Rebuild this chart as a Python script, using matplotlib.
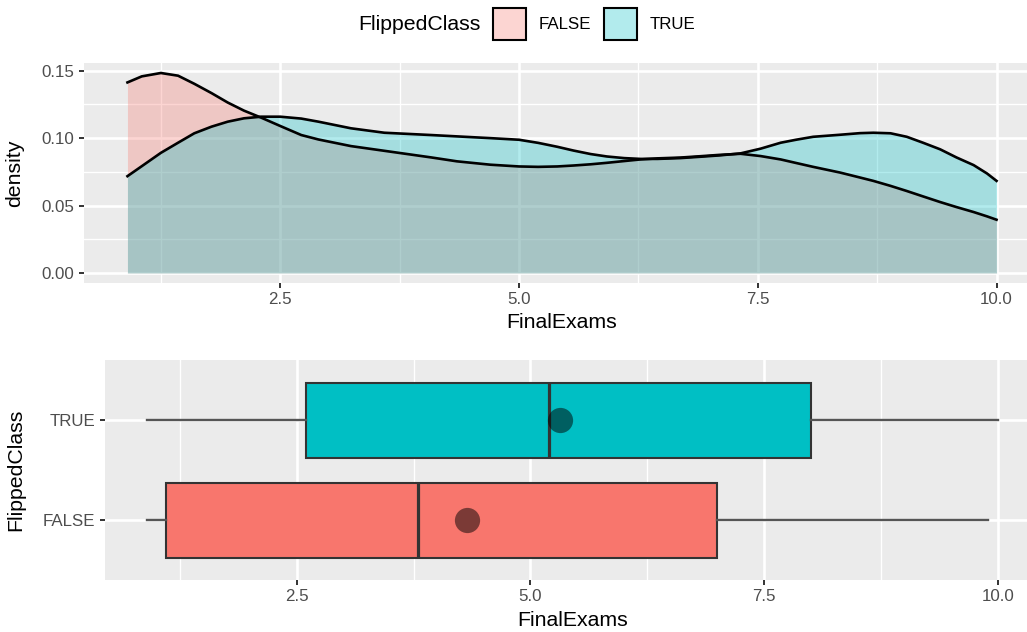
import matplotlib
matplotlib.use("Agg")
import matplotlib.pyplot as plt
from matplotlib.patches import Patch
from matplotlib.colors import to_rgba
from matplotlib.ticker import MultipleLocator

plt.rcParams['font.family'] = ['Liberation Sans', 'DejaVu Sans']

# density curves
dens_x = [0.9, 1.05, 1.25, 1.43, 1.6, 1.78, 1.95, 2.12, 2.3, 2.5, 2.72, 2.9, 3.24, 3.59,
          4.08, 4.35, 4.7, 5.0, 5.2, 5.4, 5.57, 5.75, 5.92, 6.1, 6.27, 6.45, 6.69, 6.9,
          7.1, 7.32, 7.53, 7.74, 7.9, 8.08, 8.36, 8.57, 8.71, 8.89, 9.06, 9.23, 9.41,
          9.58, 9.76, 9.9, 10.0]
dens_false = [0.1413, 0.1458, 0.1483, 0.1463, 0.1403, 0.1334, 0.1264, 0.1204, 0.1152,
              0.1090, 0.1023, 0.0990, 0.0941, 0.0906, 0.0857, 0.0828, 0.0803, 0.0790,
              0.0787, 0.0790, 0.0797, 0.0806, 0.0817, 0.0830, 0.0842, 0.0850, 0.0856,
              0.0866, 0.0876, 0.0884, 0.0867, 0.0842, 0.0816, 0.0787, 0.0745, 0.0708,
              0.0683, 0.0646, 0.0608, 0.0568, 0.0526, 0.0489, 0.0452, 0.0420, 0.0395]
dens_true = [0.0718, 0.0792, 0.0891, 0.0966, 0.1036, 0.1085, 0.1122, 0.1147, 0.1159,
             0.1159, 0.1145, 0.1122, 0.1073, 0.1040, 0.1023, 0.1013, 0.1000, 0.0988,
             0.0965, 0.0936, 0.0908, 0.0882, 0.0864, 0.0852, 0.0846, 0.0846, 0.0852,
             0.0862, 0.0872, 0.0887, 0.0922, 0.0966, 0.0988, 0.1010, 0.1025, 0.1037,
             0.1040, 0.1036, 0.1010, 0.0966, 0.0917, 0.0857, 0.0800, 0.0738, 0.0683]

# boxplot summary (FALSE, TRUE)
groups = ['FALSE', 'TRUE']
whis_lo = [0.9, 0.9]
q1 = [1.1, 2.6]
median = [3.8, 5.2]
q3 = [7.0, 8.0]
whis_hi = [9.9, 10.0]
means = [4.32, 5.32]

colors = ['#F8766D', '#00BFC4']
bg = '#EBEBEB'
tick_col = '#4D4D4D'

fig = plt.figure(figsize=(10.27, 6.32), dpi=100)

xmin, xmax = min(dens_x), max(dens_x)
xpad = 0.05 * (xmax - xmin)

def style_axes(ax):
    ax.set_facecolor(bg)
    for s in ax.spines.values():
        s.set_visible(False)
    ax.tick_params(axis='both', which='major', length=3.8, width=1.4, color='#333333',
                   labelcolor=tick_col, labelsize=12.2, pad=3)
    ax.tick_params(axis='both', which='minor', length=0)
    ax.grid(which='major', color='white', linewidth=1.9)
    ax.grid(which='minor', color='white', linewidth=0.95)
    ax.set_axisbelow(True)

# --- top: density ---
ax1 = fig.add_axes([84 / 1027, 1 - 283 / 632, (1040 - 84) / 1027, 220 / 632])
style_axes(ax1)
for ys, c in zip([dens_false, dens_true], colors):
    ax1.fill_between(dens_x, 0, ys, color=c, alpha=0.3, linewidth=0)
    ax1.plot(dens_x, ys, color='black', linewidth=1.9, solid_joinstyle='round')
ymax = max(max(dens_false), max(dens_true))
ax1.set_xlim(xmin - xpad, xmax + xpad)
ax1.set_ylim(-0.05 * ymax, ymax * 1.05)
ax1.xaxis.set_major_locator(MultipleLocator(2.5))
ax1.xaxis.set_minor_locator(MultipleLocator(1.25))
ax1.yaxis.set_major_locator(MultipleLocator(0.05))
ax1.yaxis.set_minor_locator(MultipleLocator(0.025))
ax1.xaxis.set_major_formatter(plt.FuncFormatter(lambda v, p: f"{v:.1f}"))
ax1.yaxis.set_major_formatter(plt.FuncFormatter(lambda v, p: f"{v:.2f}"))
ax1.set_xlabel('FinalExams', fontsize=15.3, labelpad=4)
ax1.set_ylabel('density', fontsize=15.3)
ax1.yaxis.set_label_coords(-0.063, 0.5)

# --- bottom: boxplot ---
ax2 = fig.add_axes([104.6 / 1027, 1 - 580 / 632, (1040.2 - 104.6) / 1027, 220 / 632])
style_axes(ax2)
stats = []
for i, g in enumerate(groups):
    stats.append(dict(label=g, whislo=whis_lo[i], q1=q1[i], med=median[i],
                      q3=q3[i], whishi=whis_hi[i], fliers=[]))
bp = ax2.bxp(stats, positions=[1, 2], widths=0.75, orientation='horizontal',
             patch_artist=True, showcaps=False, showfliers=False,
             boxprops=dict(edgecolor='#333333', linewidth=1.5),
             whiskerprops=dict(color='#555555', linewidth=1.7),
             medianprops=dict(color='#333333', linewidth=2.3))
for box, c in zip(bp['boxes'], colors):
    box.set_facecolor(c)
ax2.scatter(means, [1, 2], s=330, color='black', alpha=0.5, linewidths=0, zorder=5)
ax2.set_xlim(xmin - xpad, xmax + xpad)
ax2.set_ylim(0.4, 2.6)
ax2.xaxis.set_major_locator(MultipleLocator(2.5))
ax2.xaxis.set_minor_locator(MultipleLocator(1.25))
ax2.xaxis.set_major_formatter(plt.FuncFormatter(lambda v, p: f"{v:.1f}"))
ax2.set_yticks([1, 2])
ax2.set_yticklabels(groups)
ax2.set_xlabel('FinalExams', fontsize=15.3, labelpad=5)
ax2.set_ylabel('FlippedClass', fontsize=15.3)
ax2.yaxis.set_label_coords(-0.085, 0.5)

# --- legend on top ---
fig.text(358 / 1027, 1 - 25 / 632, 'FlippedClass', fontsize=15.3, ha='left', va='center')
handles = [Patch(facecolor=to_rgba(c, 0.3), edgecolor='black', linewidth=1.5) for c in colors]
leg = fig.legend(handles, groups, ncol=2, loc='center left',
                 bbox_to_anchor=(493 / 1027, 1 - 24 / 632), frameon=False,
                 fontsize=12.2, handlelength=1.95, handleheight=2.6,
                 handletextpad=0.75, columnspacing=0.75, borderpad=0, borderaxespad=0)

fig.savefig('out.png', dpi=100)
